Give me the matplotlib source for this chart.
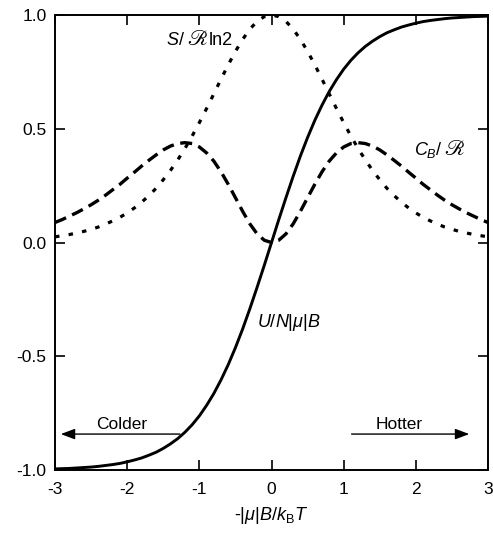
import numpy as np
import matplotlib
matplotlib.use("Agg")
import matplotlib.pyplot as plt
from matplotlib.offsetbox import TextArea, HPacker, AnnotationBbox

plt.rcParams['font.family'] = ['Liberation Sans', 'STIXGeneral', 'DejaVu Sans']
plt.rcParams['mathtext.fontset'] = 'custom'
plt.rcParams['mathtext.rm'] = 'Liberation Sans'
plt.rcParams['mathtext.it'] = 'Liberation Sans:italic'
plt.rcParams['axes.unicode_minus'] = False

# x = -|mu|B / kT, read every 0.1 from -3 to 3
x = np.linspace(-3, 3, 61)

energy = [-0.995, -0.994, -0.993, -0.991, -0.989, -0.987, -0.984, -0.980, -0.976, -0.971,
          -0.964, -0.956, -0.947, -0.935, -0.922, -0.905, -0.885, -0.862, -0.834, -0.801,
          -0.762, -0.716, -0.664, -0.604, -0.537, -0.462, -0.380, -0.291, -0.197, -0.100,
          0.0,
          0.100, 0.197, 0.291, 0.380, 0.462, 0.537, 0.604, 0.664, 0.716, 0.762,
          0.801, 0.834, 0.862, 0.885, 0.905, 0.922, 0.935, 0.947, 0.956, 0.964,
          0.971, 0.976, 0.980, 0.984, 0.987, 0.989, 0.991, 0.993, 0.994, 0.995]

heat_cap = [0.088, 0.101, 0.116, 0.131, 0.148, 0.166, 0.186, 0.208, 0.232, 0.256,
            0.283, 0.309, 0.336, 0.361, 0.385, 0.407, 0.424, 0.435, 0.439, 0.435,
            0.420, 0.394, 0.358, 0.311, 0.256, 0.197, 0.137, 0.082, 0.038, 0.010,
            0.0,
            0.010, 0.038, 0.082, 0.137, 0.197, 0.256, 0.311, 0.358, 0.394, 0.420,
            0.435, 0.439, 0.435, 0.424, 0.407, 0.385, 0.361, 0.336, 0.309, 0.283,
            0.256, 0.232, 0.208, 0.186, 0.166, 0.148, 0.131, 0.116, 0.101, 0.088]

entropy = [0.025, 0.030, 0.035, 0.042, 0.049, 0.058, 0.068, 0.081, 0.095, 0.111,
           0.130, 0.152, 0.177, 0.206, 0.238, 0.276, 0.317, 0.363, 0.413, 0.468,
           0.527, 0.589, 0.653, 0.718, 0.781, 0.840, 0.893, 0.938, 0.972, 0.993,
           1.000,
           0.993, 0.972, 0.938, 0.893, 0.840, 0.781, 0.718, 0.653, 0.589, 0.527,
           0.468, 0.413, 0.363, 0.317, 0.276, 0.238, 0.206, 0.177, 0.152, 0.130,
           0.111, 0.095, 0.081, 0.068, 0.058, 0.049, 0.042, 0.035, 0.030, 0.025]

xticks = [-3, -2, -1, 0, 1, 2, 3]
yticks = [-1.0, -0.5, 0.0, 0.5, 1.0]

fig = plt.figure(figsize=(4.93, 5.40), dpi=100)
ax = fig.add_axes([0.1116, 0.1296, 0.8783, 0.8426])

ax.plot(x, energy, color='black', lw=2.1, solid_capstyle='butt')
ax.plot(x, heat_cap, color='black', lw=2.4, dashes=(3.6, 2.0))
ax.plot(x, entropy, color='black', lw=2.3, dashes=(1.4, 2.9))

ax.set_xlim(-3, 3)
ax.set_ylim(-1, 1)
ax.set_xticks(xticks)
ax.set_xticklabels([str(t) for t in xticks])
ax.set_yticks(yticks)
ax.set_yticklabels(['%.1f' % t for t in yticks])
ax.tick_params(direction='in', length=7, width=1.2, labelsize=12.5,
               top=True, right=True)
ax.tick_params(axis='x', pad=8.5)
ax.tick_params(axis='y', pad=6)
for s in ax.spines.values():
    s.set_linewidth(1.4)

ax.set_xlabel(r'-|$\mu$|$B/k_\mathrm{B}T$', fontsize=13, labelpad=6)


def curve_label(parts, xy, align):
    boxes = []
    for txt, fam, size in parts:
        props = dict(fontsize=size, color='black')
        if fam:
            props['family'] = fam
        boxes.append(TextArea(txt, textprops=props))
    pack = HPacker(children=boxes, align='baseline', pad=0, sep=1)
    ab = AnnotationBbox(pack, xy, xycoords='data', box_alignment=align,
                        frameon=False, pad=0)
    ax.add_artist(ab)


curve_label([(r'$S$/', None, 13), ('ℛ', 'STIXGeneral', 15.5), ('ln2', None, 13)],
            (-0.54, 0.89), (1.0, 0.5))
curve_label([(r'$C_B$/', None, 13), ('ℛ', 'STIXGeneral', 15.5)],
            (1.98, 0.405), (0.0, 0.5))
ax.text(-0.2, -0.35, r'$U/N$|$\mu$|$B$', fontsize=13, ha='left', va='center')

# temperature direction arrows
arrow = dict(arrowstyle='-|>,head_length=0.85,head_width=0.32', color='black',
             lw=1.0, mutation_scale=10, shrinkA=0, shrinkB=0)
ax.annotate('', xy=(-2.92, -0.842), xytext=(-1.27, -0.842), arrowprops=arrow)
ax.annotate('', xy=(2.74, -0.842), xytext=(1.11, -0.842), arrowprops=arrow)
ax.text(-2.08, -0.80, 'Colder', fontsize=12.5, ha='center', va='center')
ax.text(1.77, -0.80, 'Hotter', fontsize=12.5, ha='center', va='center')

fig.savefig('out.png', dpi=100)
